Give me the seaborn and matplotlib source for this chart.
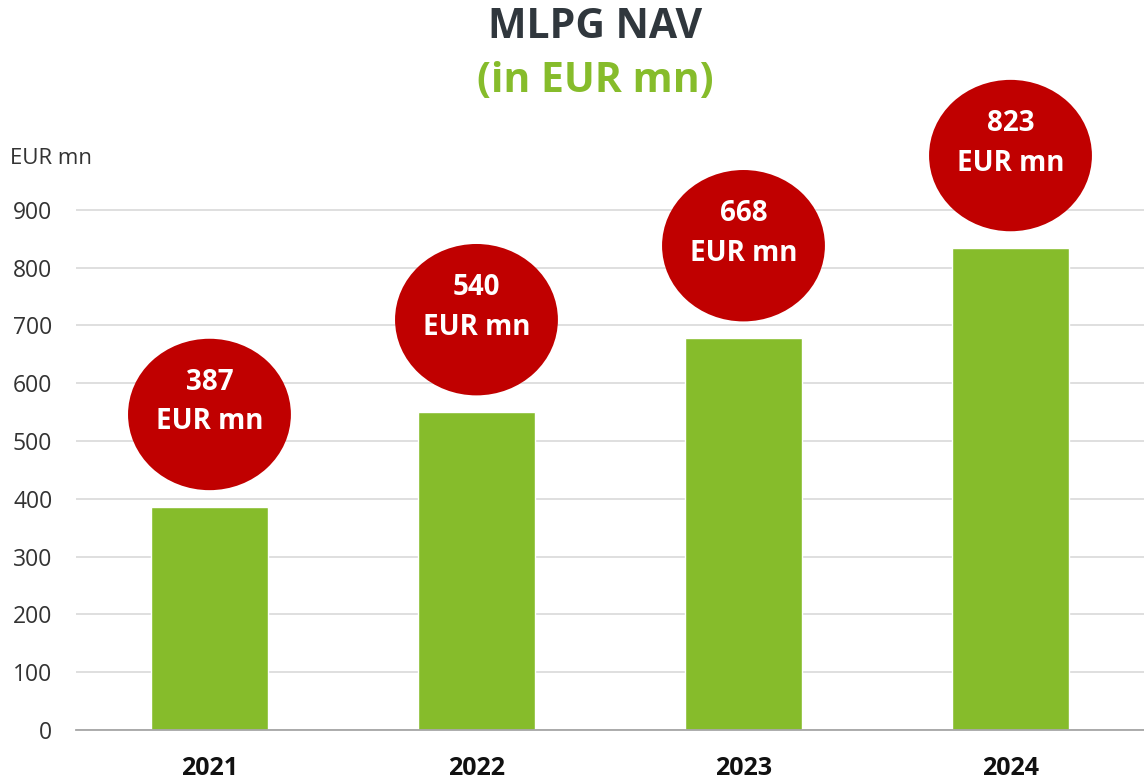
import numpy as np
import pandas as pd
import seaborn as sns
from matplotlib import pyplot as plt
from matplotlib.patches import Ellipse

# values
years = ['2021', '2022', '2023', '2024']
bar_values = [386, 550, 678, 834]
labels = ['387', '540', '668', '823']
yticks = [0, 100, 200, 300, 400, 500, 600, 700, 800, 900]

GREEN = '#86bc2b'
RED = '#c00000'
DARK = '#30373d'

sns.set_style('white')
plt.rcParams['font.family'] = ['Open Sans', 'DejaVu Sans']

df = pd.DataFrame({'year': years, 'nav': bar_values})

fig = plt.figure(figsize=(11.44, 7.83), dpi=100)
ax = fig.add_axes([0.0664, 0.0677, 0.9336, 0.834])

sns.barplot(df, x='year', y='nav', color=GREEN, saturation=1, width=0.44, ax=ax, zorder=3)

ax.set_xlim(-0.5, 3.5)
ax.set_ylim(0, 1130)
ax.set_yticks(yticks)
ax.yaxis.grid(True, color='#d9d9d9', linewidth=1.2, zorder=0)
ax.set_axisbelow(True)
for s in ['top', 'right', 'left']:
    ax.spines[s].set_visible(False)
ax.spines['bottom'].set_color('#a6a6a6')
ax.spines['bottom'].set_linewidth(1.3)
ax.spines['bottom'].set_zorder(4)
ax.tick_params(axis='both', length=0)
ax.tick_params(axis='y', labelsize=16.5, labelcolor='#333333', pad=17)
ax.tick_params(axis='x', labelsize=18, labelcolor='#111111', pad=19)
for t in ax.get_xticklabels():
    t.set_fontweight('bold')
ax.set_xlabel('')
ax.set_ylabel('')

# red bubbles above the bars
for i, (v, lab) in enumerate(zip(bar_values, labels)):
    cy = v + 160
    ax.add_patch(Ellipse((i, cy), width=0.61, height=262, facecolor=RED,
                         edgecolor='none', zorder=5, clip_on=False))
    ax.text(i, cy + 55, lab, ha='center', va='center', color='white',
            fontsize=20, fontweight='bold', zorder=6)
    ax.text(i, cy - 13, 'EUR mn', ha='center', va='center', color='white',
            fontsize=20, fontweight='bold', zorder=6)

fig.text(0.0087, 1 - 158 / 783, 'EUR mn', ha='left', va='center',
         fontsize=16, color='#333333')
fig.text(0.52, 1 - 28 / 783, 'MLPG NAV', ha='center', va='center',
         fontsize=29.5, fontweight='bold', color=DARK)
fig.text(0.52, 1 - 82 / 783, '(in EUR mn)', ha='center', va='center',
         fontsize=29.5, fontweight='bold', color=GREEN)

plt.savefig('out.png', dpi=100)
